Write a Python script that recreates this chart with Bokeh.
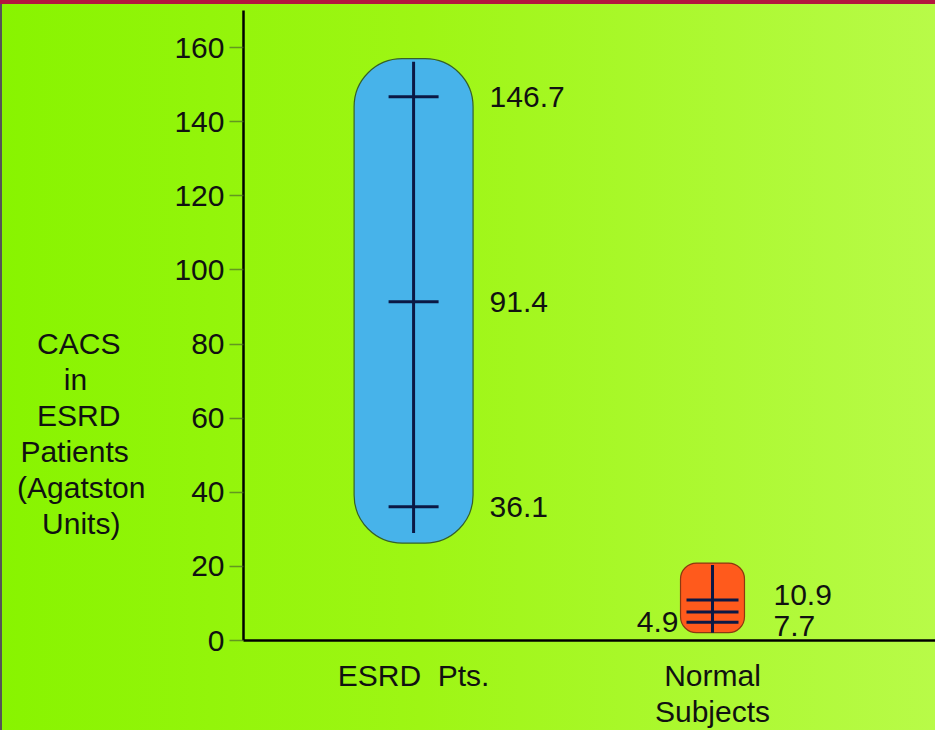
from bokeh.plotting import figure
from bokeh.models import Range1d, FixedTicker, Label
from bokeh.embed import file_html
from bokeh.resources import INLINE

# ---- data ----
categories = ["ESRD  Pts.", "Normal\nSubjects"]
cat_pos = [1, 2]
esrd_values = [146.7, 91.4, 36.1]
normal_values = [10.9, 7.7, 4.9]
box_top = [157.0, 20.9]
box_bottom = [26.3, 2.1]
whisker_top = [156.2, 20.4]
whisker_bottom = [29.0, 2.1]
y_ticks = [0, 20, 40, 60, 80, 100, 120, 140, 160]
y_title_lines = ["CACS", "in", "ESRD", "Patients", "(Agatston", "Units)"]

FONT = "Liberation Sans"
INK = "#111111"
NBSP = "\u00a0"

# the axis title is drawn right-aligned by Bokeh: pad each line with
# non-breaking spaces so the lines look centred, and add blank lines on top
# so that the block sits lower than the frame's middle, as in the original
pad = [3, 7, 3, 2, 0, 3]
title_text = "\n".join([NBSP] * 6 + [t + NBSP * n for t, n in zip(y_title_lines, pad)])

p = figure(width=935, height=730, output_backend="svg", toolbar_location=None,
           x_range=Range1d(0.431, 2.746), y_range=Range1d(0, 170),
           min_border_left=243, min_border_right=0, min_border_top=10,
           min_border_bottom=87, title=None)

p.background_fill_alpha = 0
p.border_fill_alpha = 0
p.outline_line_color = None
p.grid.visible = False
p.styles = {
    "background": "linear-gradient(to right, #88f400 0%, #9ef614 45%, #b8fb48 100%)",
    "box-shadow": "inset 0 4px 0 #b3173f, inset 2px 0 0 #555555",
}

# y axis
ya = p.yaxis[0]
ya.ticker = FixedTicker(ticks=y_ticks)
ya.minor_tick_line_color = None
ya.major_tick_in = 0
ya.major_tick_out = 14
ya.major_tick_line_color = "#4f6f2a"
ya.major_tick_line_alpha = 0.7
ya.major_tick_line_width = 1.5
ya.axis_line_color = "black"
ya.axis_line_width = 2.5
ya.major_label_standoff = 5
ya.major_label_text_font = FONT
ya.major_label_text_font_size = "30px"
ya.major_label_text_color = INK
ya.axis_label = title_text
ya.axis_label_orientation = "horizontal"
ya.axis_label_standoff = 26
ya.axis_label_text_font = FONT
ya.axis_label_text_font_size = "30px"
ya.axis_label_text_font_style = "normal"
ya.axis_label_text_color = INK
ya.axis_label_text_line_height = 1.09

# x axis
xa = p.xaxis[0]
xa.ticker = FixedTicker(ticks=cat_pos)
xa.major_label_overrides = {c: lab.replace("  ", NBSP + " ") for c, lab in zip(cat_pos, categories)}
xa.minor_tick_line_color = None
xa.major_tick_line_color = None
xa.major_tick_in = 0
xa.major_tick_out = 0
xa.axis_line_color = "black"
xa.axis_line_width = 2.5
xa.major_label_standoff = 18
xa.major_label_text_font = FONT
xa.major_label_text_font_size = "30px"
xa.major_label_text_color = INK
xa.major_label_text_line_height = 1.1

# boxes
half_w = [0.199, 0.107]
fills = ["#47b3ea", "#ff5a1c"]
outlines = ["#35602a", "#8a3a10"]
radii = [48, 16]
for i in range(2):
    p.quad(left=[cat_pos[i] - half_w[i]], right=[cat_pos[i] + half_w[i]],
           bottom=[box_bottom[i]], top=[box_top[i]],
           fill_color=fills[i], line_color=outlines[i], line_width=1.2,
           border_radius=radii[i])

# whiskers
p.segment(x0=cat_pos, x1=cat_pos, y0=whisker_bottom, y1=whisker_top,
          line_color="#0b1845", line_width=3)

# cross ticks
p.scatter(x=[cat_pos[0]] * len(esrd_values), y=esrd_values, marker="dash",
          size=50, line_color="#0b1845", line_width=3)
p.scatter(x=[cat_pos[1]] * len(normal_values), y=normal_values, marker="dash",
          size=52, line_color="#0b1845", line_width=3)

# value labels
for v in esrd_values:
    p.add_layout(Label(x=cat_pos[0], y=v, text=str(v), x_offset=76, y_offset=0,
                       text_align="left", text_baseline="middle",
                       text_font=FONT, text_font_size="30px", text_color=INK))
norm_offsets = [(61, 5, "left"), (61, -14, "left"), (-34, 0, "right")]
for v, (dx, dy, al) in zip(normal_values, norm_offsets):
    p.add_layout(Label(x=cat_pos[1], y=v, text=str(v), x_offset=dx, y_offset=dy,
                       text_align=al, text_baseline="middle",
                       text_font=FONT, text_font_size="30px", text_color=INK))

open("out.html", "w").write(file_html(p, INLINE))
